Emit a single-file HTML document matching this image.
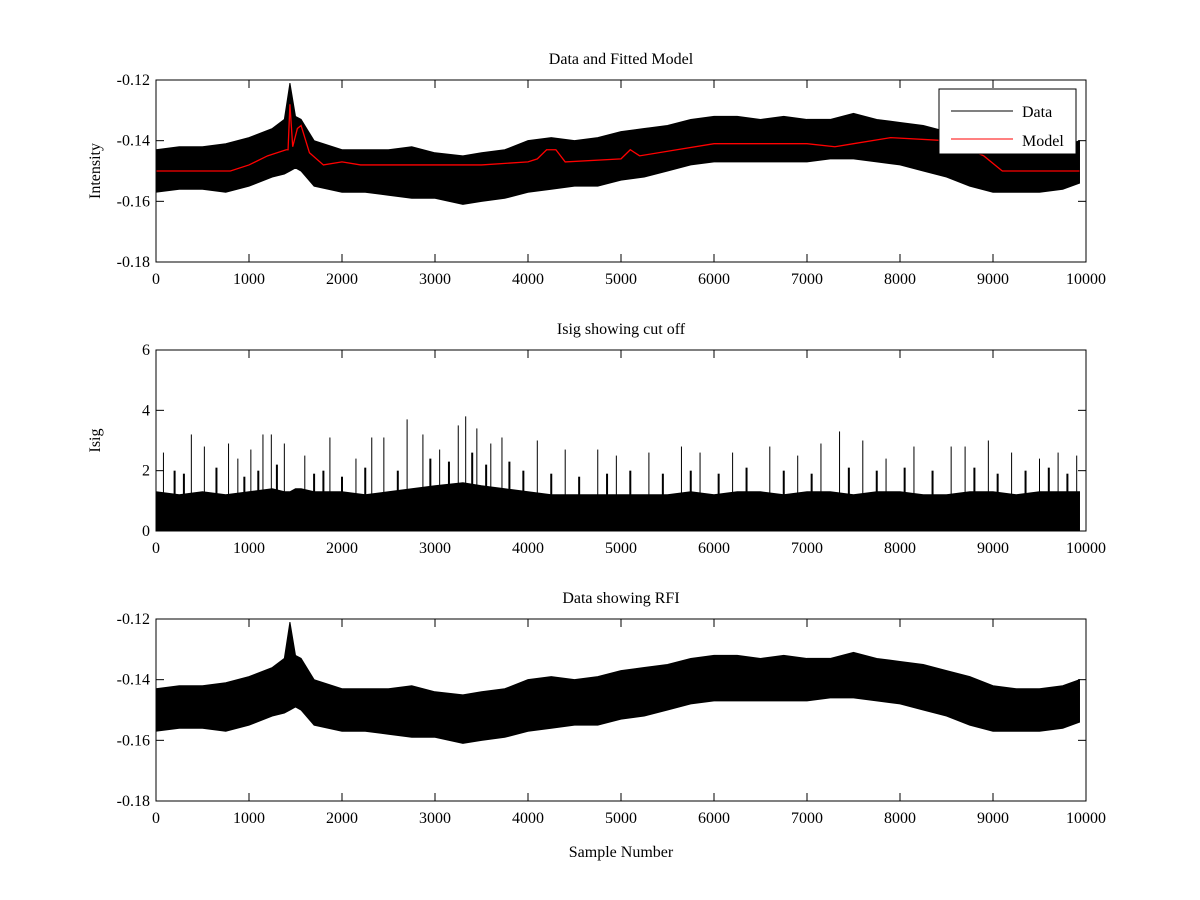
<!DOCTYPE html>
<html><head><meta charset="utf-8"><style>
body{margin:0;background:#fff}
svg{display:block;font-family:"Liberation Serif",serif}
</style></head><body>
<svg id="fig" width="1200" height="900" viewBox="0 0 1200 900"></svg>
<script>
// ---- data ----
const binX   = [0,250,500,750,1000,1250,1380,1440,1500,1560,1700,2000,2250,2500,2750,3000,3300,3500,3750,4000,4250,4500,4750,5000,5250,5500,5750,6000,6250,6500,6750,7000,7250,7500,7750,8000,8250,8500,8750,9000,9250,9500,9750,9930];
const dataHi = [-0.143,-0.142,-0.142,-0.141,-0.139,-0.136,-0.133,-0.121,-0.132,-0.133,-0.140,-0.143,-0.143,-0.143,-0.142,-0.144,-0.145,-0.144,-0.143,-0.140,-0.139,-0.140,-0.139,-0.137,-0.136,-0.135,-0.133,-0.132,-0.132,-0.133,-0.132,-0.133,-0.133,-0.131,-0.133,-0.134,-0.135,-0.137,-0.139,-0.142,-0.143,-0.143,-0.142,-0.140];
const dataLo = [-0.157,-0.156,-0.156,-0.157,-0.155,-0.152,-0.151,-0.150,-0.149,-0.150,-0.155,-0.157,-0.157,-0.158,-0.159,-0.159,-0.161,-0.160,-0.159,-0.157,-0.156,-0.155,-0.155,-0.153,-0.152,-0.150,-0.148,-0.147,-0.147,-0.147,-0.147,-0.147,-0.146,-0.146,-0.147,-0.148,-0.150,-0.152,-0.155,-0.157,-0.157,-0.157,-0.156,-0.154];
const modelX = [0,800,1000,1200,1400,1420,1440,1470,1520,1560,1650,1800,2000,2200,2500,3000,3500,4000,4100,4200,4300,4400,5000,5100,5200,5600,6000,7000,7300,7500,7900,8500,8900,9100,9930];
const modelY = [-0.150,-0.150,-0.148,-0.145,-0.143,-0.143,-0.128,-0.142,-0.136,-0.135,-0.144,-0.148,-0.147,-0.148,-0.148,-0.148,-0.148,-0.147,-0.146,-0.143,-0.143,-0.147,-0.146,-0.143,-0.145,-0.143,-0.141,-0.141,-0.142,-0.141,-0.139,-0.140,-0.145,-0.150,-0.150];
const isigBinHi = [1.3,1.2,1.3,1.2,1.3,1.4,1.3,1.3,1.4,1.4,1.3,1.3,1.2,1.3,1.4,1.5,1.6,1.5,1.4,1.3,1.2,1.2,1.2,1.2,1.2,1.2,1.3,1.2,1.3,1.3,1.2,1.3,1.3,1.2,1.3,1.3,1.2,1.2,1.3,1.3,1.2,1.3,1.3,1.3];
const spikeX = [80,380,520,780,880,1020,1150,1240,1380,1600,1870,2150,2320,2450,2700,2870,3050,3250,3330,3450,3600,3720,4100,4400,4750,4950,5300,5650,5850,6200,6600,6900,7150,7350,7600,7850,8150,8550,8700,8950,9200,9500,9700,9900];
const spikeY = [2.6,3.2,2.8,2.9,2.4,2.7,3.2,3.2,2.9,2.5,3.1,2.4,3.1,3.1,3.7,3.2,2.7,3.5,3.8,3.4,2.9,3.1,3.0,2.7,2.7,2.5,2.6,2.8,2.6,2.6,2.8,2.5,2.9,3.3,3.0,2.4,2.8,2.8,2.8,3.0,2.6,2.4,2.6,2.5];
const midSpikeX = [200,300,650,950,1100,1300,1700,1800,2000,2250,2600,2950,3150,3400,3550,3800,3950,4250,4550,4850,5100,5450,5750,6050,6350,6750,7050,7450,7750,8050,8350,8800,9050,9350,9600,9800];
const midSpikeY = [2.0,1.9,2.1,1.8,2.0,2.2,1.9,2.0,1.8,2.1,2.0,2.4,2.3,2.6,2.2,2.3,2.0,1.9,1.8,1.9,2.0,1.9,2.0,1.9,2.1,2.0,1.9,2.1,2.0,2.1,2.0,2.1,1.9,2.0,2.1,1.9];
const xTicks = [0,1000,2000,3000,4000,5000,6000,7000,8000,9000,10000];
const yTicksI = [-0.18,-0.16,-0.14,-0.12];
const yTicksS = [0,2,4,6];

const NS="http://www.w3.org/2000/svg", svg=document.getElementById('fig');
function el(t,a,p){const e=document.createElementNS(NS,t);for(const k in a)e.setAttribute(k,a[k]);(p||svg).appendChild(e);return e;}
const L=156,R=1086;
const sx=v=>L+(v/10000)*(R-L);
function axes(top,bot,ymin,ymax,yt,title,ylabel,xlabel,name){
  const g=el('g',{});
  
  
  const sy=v=>bot-(v-ymin)/(ymax-ymin)*(bot-top);
  return {g,sy,finish(){
    el('rect',{x:L,y:top,width:R-L,height:bot-top,fill:'none',stroke:'#000','stroke-width':1},g);
    xTicks.forEach(t=>{const x=sx(t);
      el('line',{x1:x,x2:x,y1:bot,y2:bot-8,stroke:'#000'},g);el('line',{x1:x,x2:x,y1:top,y2:top+8,stroke:'#000'},g);
      const tx=el('text',{x:x,y:bot+22,'text-anchor':'middle','font-size':16},g);tx.textContent=t;
      });
    yt.forEach(t=>{const y=sy(t);
      el('line',{x1:L,x2:L+8,y1:y,y2:y,stroke:'#000'},g);el('line',{x1:R,x2:R-8,y1:y,y2:y,stroke:'#000'},g);
      const tx=el('text',{x:L-6,y:y+5,'text-anchor':'end','font-size':16},g);tx.textContent=t;
      });
    const tt=el('text',{x:(L+R)/2,y:top-16,'text-anchor':'middle','font-size':16},g);tt.textContent=title;
    
    if(ylabel){const yl=el('text',{x:0,y:0,'text-anchor':'middle','font-size':16,transform:`translate(100,${(top+bot)/2}) rotate(-90)`},g);yl.textContent=ylabel;
      }
    if(xlabel){const xl=el('text',{x:(L+R)/2,y:bot+56,'text-anchor':'middle','font-size':16},g);xl.textContent=xlabel;
      }
  }};
}
function band(ax,name){
  let d='M'+binX.map((x,i)=>sx(x)+','+ax.sy(dataHi[i])).join(' L');
  d+=' L'+binX.map((x,i)=>sx(x)+','+ax.sy(dataLo[i])).reverse().join(' L')+' Z';
  const p=el('path',{d,fill:'#000',stroke:'#000','stroke-width':1},ax.g);
  
}
// plot 1
const a1=axes(80,262,-0.18,-0.12,yTicksI,'Data and Fitted Model','Intensity',null,'data-model-plot');
band(a1,'data-series');
const m=el('polyline',{points:modelX.map((x,i)=>sx(x)+','+a1.sy(modelY[i])).join(' '),fill:'none',stroke:'#f00','stroke-width':1.3},a1.g);

a1.finish();
const lg=el('g',{},a1.g);

el('rect',{x:939,y:89,width:137,height:65,fill:'#fff',stroke:'#000'},lg);
el('line',{x1:951,x2:1013,y1:111,y2:111,stroke:'#000'},lg);
el('line',{x1:951,x2:1013,y1:139,y2:139,stroke:'#f00'},lg);
const t1=el('text',{x:1022,y:117,'font-size':16},lg);t1.textContent='Data';

const t2=el('text',{x:1022,y:146,'font-size':16},lg);t2.textContent='Model';

// plot 2
const a2=axes(350,531,0,6,yTicksS,'Isig showing cut off','Isig',null,'isig-plot');
let d2='M'+binX.map((x,i)=>sx(x)+','+a2.sy(isigBinHi[i])).join(' L')+` L${sx(binX[binX.length-1])},${a2.sy(0)} L${sx(0)},${a2.sy(0)} Z`;
const ib=el('path',{d:d2,fill:'#000',stroke:'#000'},a2.g);

spikeX.forEach((x,i)=>{const s=el('line',{x1:sx(x),x2:sx(x),y1:a2.sy(0),y2:a2.sy(spikeY[i]),stroke:'#000'},a2.g);
  });
midSpikeX.forEach((x,i)=>{const s=el('line',{x1:sx(x),x2:sx(x),y1:a2.sy(0),y2:a2.sy(midSpikeY[i]),stroke:'#000','stroke-width':2},a2.g);
  });
a2.finish();
// plot 3
const a3=axes(619,801,-0.18,-0.12,yTicksI,'Data showing RFI',null,'Sample Number','rfi-plot');
band(a3,'rfi-data-series');
a3.finish();
</script>
</body></html>
